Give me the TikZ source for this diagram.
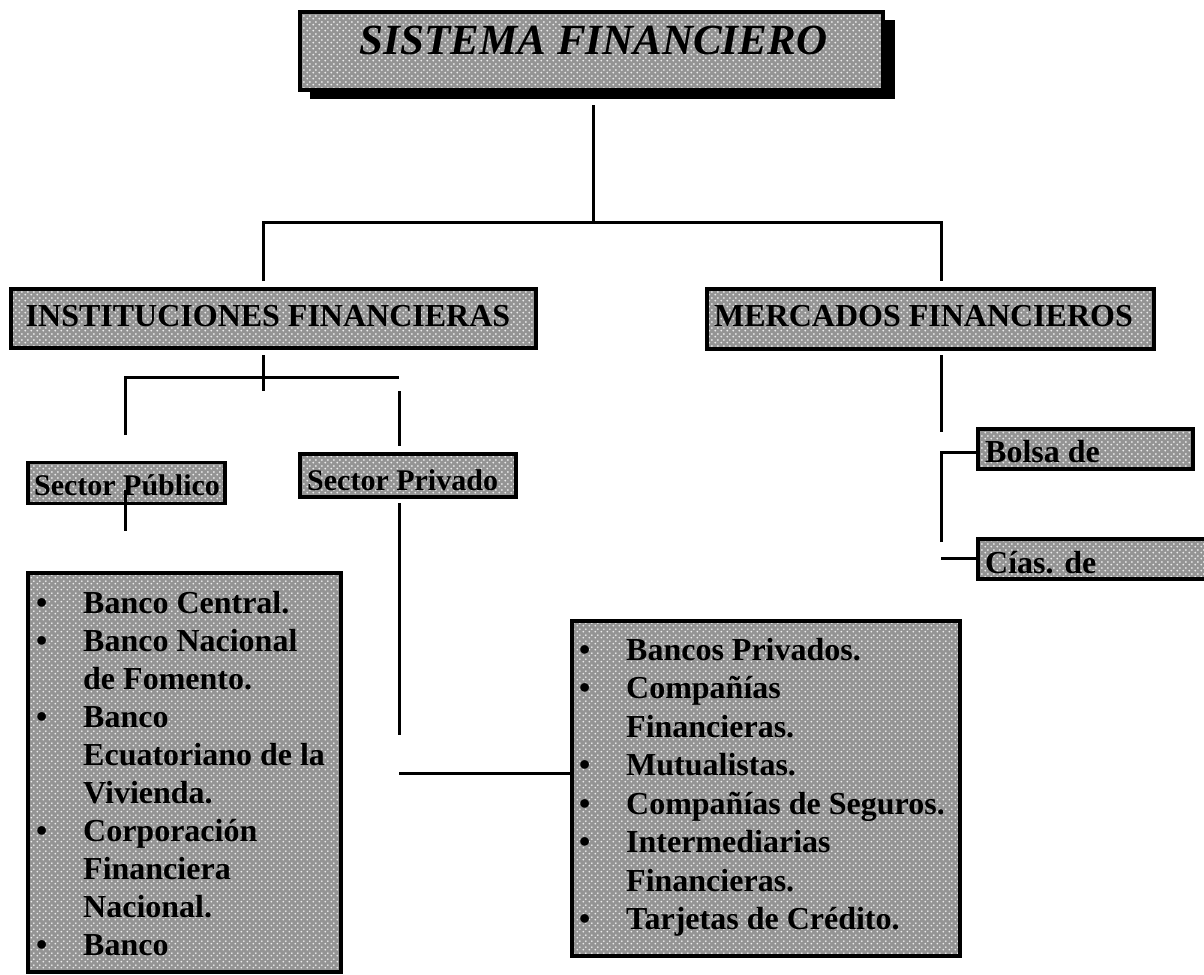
\documentclass[tikz,border=0pt]{standalone}
\usepackage{fontspec}
\setmainfont{Liberation Serif}
\usetikzlibrary{patterns.meta}
\pgfdeclarepattern{name=halodots, type=uncolored,
  bottom left={\pgfpoint{0pt}{0pt}}, top right={\pgfpoint{6pt}{6pt}},
  tile size={\pgfpoint{6pt}{6pt}},
  code={\pgfpathcircle{\pgfpoint{1.5pt}{1.5pt}}{1.15pt}%
        \pgfpathcircle{\pgfpoint{4.5pt}{4.5pt}}{1.15pt}\pgfusepath{fill}}}
\newcommand\bitem[2]{\hbox{\makebox[#1][l]{\textbullet}#2}}
\newcommand\citem[2]{\hbox{\hspace*{#1}#2}}
\tikzset{
  hbox/.style={draw, line width=3.5pt, preaction={fill=black!42},
    pattern={halodots}, pattern color=white!92!black, inner sep=0pt},
  conn/.style={line width=3pt},
  txt/.style={inner sep=0pt, text=black, font=\bfseries\fontsize{32}{38}\selectfont},
  stxt/.style={inner sep=0pt, text=black, font=\bfseries\fontsize{30}{36}\selectfont},
}
\begin{document}
\begin{tikzpicture}[x=1pt,y=-1pt]
\useasboundingbox (0,0) rectangle (1204,974);
% title with shadow
\fill[black] (310,20) rectangle (895,99);
\node[hbox, minimum width=583pt, minimum height=78pt] (title) at (591.5,51) {};
\node[inner sep=0pt, anchor=base, text=black, font=\bfseries\itshape\fontsize{43}{50}\selectfont]
  (titletxt) at (593.5,55) {SISTEMA FINANCIERO};
% level 1
\node[hbox, minimum width=525pt, minimum height=59pt] (inst) at (273.5,318.5) {};
\node[txt, anchor=base] (insttxt) at (268,326) {INSTITUCIONES FINANCIERAS};
\node[hbox, minimum width=447pt, minimum height=60pt] (merc) at (930.5,319) {};
\node[txt, anchor=base] (merctxt) at (923.5,326) {MERCADOS FINANCIEROS};
% sectors
\node[hbox, minimum width=197pt, minimum height=41pt] (spub) at (126.5,483) {};
\node[stxt, anchor=base] (spubtxt) at (127,495) {Sector Público};
\node[hbox, minimum width=216pt, minimum height=43pt] (spriv) at (408,475.5) {};
\node[stxt, anchor=base west] (sprivtxt) at (307,490) {Sector Privado};
% markets
\node[hbox, minimum width=215pt, minimum height=40pt] (bolsa) at (1085.5,449) {};
\node[txt, anchor=base west] (bolsatxt) at (985,462) {Bolsa de};
\node[hbox, minimum width=237pt, minimum height=40pt] (cias) at (1096.5,559) {};
\node[txt, anchor=base west] (ciastxt) at (985,573) {Cías. de};
% lists
\node[hbox, minimum width=313pt, minimum height=399pt] (publist) at (184.5,772.5) {};
\node[txt, anchor=base west] (publisttxt) at (36,613) {\vtop{\baselineskip=38pt\lineskiplimit=-100pt
  \bitem{47pt}{Banco Central.}
  \bitem{47pt}{Banco Nacional}
  \citem{47pt}{de Fomento.}
  \bitem{47pt}{Banco}
  \citem{47pt}{Ecuatoriano de la}
  \citem{47pt}{Vivienda.}
  \bitem{47pt}{Corporación}
  \citem{47pt}{Financiera}
  \citem{47pt}{Nacional.}
  \bitem{47pt}{Banco}}};
\node[hbox, minimum width=388pt, minimum height=335pt] (privlist) at (766,788.5) {};
\node[txt, anchor=base west] (privlisttxt) at (579,660) {\vtop{\baselineskip=38.5pt\lineskiplimit=-100pt
  \bitem{47pt}{Bancos Privados.}
  \bitem{47pt}{Compañías}
  \citem{47pt}{Financieras.}
  \bitem{47pt}{Mutualistas.}
  \bitem{47pt}{Compañías de Seguros.}
  \bitem{47pt}{Intermediarias}
  \citem{47pt}{Financieras.}
  \bitem{47pt}{Tarjetas de Crédito.}}};
% junction coordinates
\coordinate (t1) at (593,105);
\coordinate (t2) at (593,222);
\coordinate (hl) at (263,222);
\coordinate (hr) at (941,222);
\coordinate (hld) at (263,281);
\coordinate (hrd) at (941,281);
\coordinate (i1) at (263,355);
\coordinate (i2) at (263,391);
\coordinate (il) at (125,377);
\coordinate (ir) at (399,377);
\coordinate (ild) at (125,435);
\coordinate (ir2) at (399,391);
\coordinate (ir2d) at (399,446);
\coordinate (p1) at (125,490);
\coordinate (p2) at (125,531);
\coordinate (q1) at (399,503);
\coordinate (q2) at (399,735);
\coordinate (q3) at (399,773);
\coordinate (m1) at (941,355);
\coordinate (m2) at (941,432);
\coordinate (m3) at (941,452);
\coordinate (m4) at (941,542);
\coordinate (m5) at (941,558);
% connectors
\draw[conn] (t1) -- (t2);
\draw[conn] (hld) -- (hl) -- (hr) -- (hrd);
\draw[conn] (i1) -- (i2);
\draw[conn] (ild) -- (il) -- (ir);
\draw[conn] (ir2) -- (ir2d);
\draw[conn] (p1) -- (p2);
\draw[conn] (q1) -- (q2);
\draw[conn] (q3) -- (q3 -| privlist.west);
\draw[conn] (m1) -- (m2);
\draw[conn] (m4) -- (m3) -- (m3 -| bolsa.west);
\draw[conn] (m5) -- (m5 -| cias.west);
\end{tikzpicture}
\end{document}
